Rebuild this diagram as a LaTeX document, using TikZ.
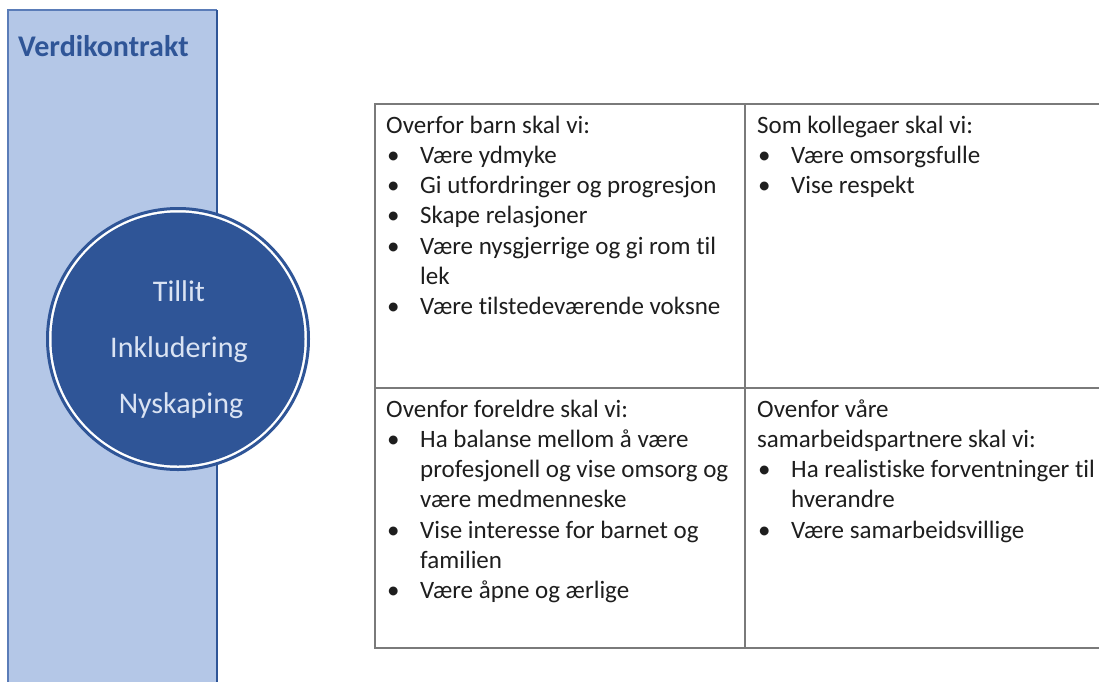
\documentclass[tikz,border=0pt]{standalone}
\usepackage{fontspec}
\setmainfont{Carlito}[Ligatures=NoCommon]
\definecolor{lightblue}{HTML}{B4C7E7}
\definecolor{darkblue}{HTML}{2F5597}
\definecolor{rectedge}{HTML}{5A7CB8}
\definecolor{circtext}{HTML}{DAE3F3}
\definecolor{gridgray}{HTML}{7A7A7A}
\definecolor{txt}{HTML}{1E1E1E}
\newcommand{\itm}[1]{\makebox[34pt][l]{\hspace{1pt}•}&#1}
\newcommand{\cnt}[1]{&#1}
\newcommand{\hdr}[1]{\multicolumn{2}{@{}l@{}}{#1}}
\tikzset{
  cell/.style={anchor=base west, inner sep=0pt, text=txt, font=\fontsize{25}{30.3}\selectfont},
  titletext/.style={anchor=base west, inner sep=0pt, text=darkblue, font=\fontsize{30}{34}\selectfont\bfseries},
  ctext/.style={anchor=base, inner sep=0pt, text=circtext, font=\fontsize{30}{36}\selectfont},
  grid/.style={draw=gridgray, line width=1.8pt}
}
\begin{document}
\begin{tikzpicture}[x=1pt,y=-1pt]
\useasboundingbox (0,0) rectangle (1099,681);
\clip (0,0) rectangle (1099,681);
\fill[white] (0,0) rectangle (1099,681);
% left band
\fill[lightblue] (8,10) rectangle (217,700);
\draw[rectedge, line width=1.5pt] (8,700) -- (8,10) -- (217,10);
\draw[darkblue, line width=1.5pt] (217,10) -- (217,700);
\node[titletext] (title) at (18,56) {Verdikontrakt};
% circle
\fill[white] (178,339) circle (130);
\draw[darkblue, line width=3pt] (178,339) circle (130.5);
\fill[darkblue] (178,339) circle (126.5);
\node[ctext] (tillit) at (179,301) {Tillit};
\node[ctext] (inkl) at (179,357) {Inkludering};
\node[ctext] (nysk) at (181,413) {Nyskaping};
% table
\draw[grid] (375,104) rectangle (1120,648);
\draw[grid] (745,104) -- (745,648);
\draw[grid] (375,388) -- (1120,388);
\node[cell] (barn) at (386,133) {\begin{tabular}[t]{@{}l@{}l@{}}
\hdr{Overfor barn skal vi:}\\
\itm{Være ydmyke}\\
\itm{Gi utfordringer og progresjon}\\
\itm{Skape relasjoner}\\
\itm{Være nysgjerrige og gi rom til}\\
\cnt{lek}\\
\itm{Være tilstedeværende voksne}
\end{tabular}};
\node[cell] (kolleg) at (757,133) {\begin{tabular}[t]{@{}l@{}l@{}}
\hdr{Som kollegaer skal vi:}\\
\itm{Være omsorgsfulle}\\
\itm{Vise respekt}
\end{tabular}};
\node[cell] (foreldre) at (386,417) {\begin{tabular}[t]{@{}l@{}l@{}}
\hdr{Ovenfor foreldre skal vi:}\\
\itm{Ha balanse mellom å være}\\
\cnt{profesjonell og vise omsorg og}\\
\cnt{være medmenneske}\\
\itm{Vise interesse for barnet og}\\
\cnt{familien}\\
\itm{Være åpne og ærlige}
\end{tabular}};
\node[cell] (partnere) at (757,417) {\begin{tabular}[t]{@{}l@{}l@{}}
\hdr{Ovenfor våre}\\
\hdr{samarbeidspartnere skal vi:}\\
\itm{Ha realistiske forventninger til}\\
\cnt{hverandre}\\
\itm{Være samarbeidsvillige}
\end{tabular}};
\end{tikzpicture}
\end{document}
